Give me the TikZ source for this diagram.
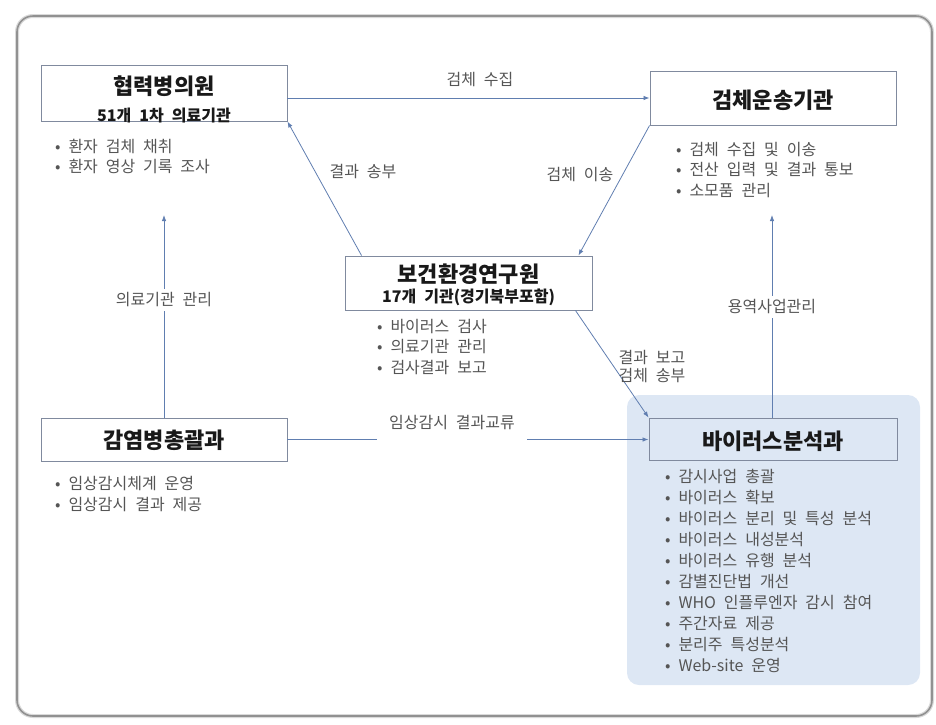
\documentclass[tikz,border=0pt]{standalone}
\usepackage{fontspec}
\setmainfont[WordSpace=2.2]{Noto Sans CJK KR}
\usetikzlibrary{arrows.meta}

\definecolor{linkblue}{RGB}{96,126,176}
\definecolor{boxline}{RGB}{128,138,158}
\definecolor{labgray}{RGB}{85,85,85}
\definecolor{paleblue}{RGB}{221,231,244}
\definecolor{framegray}{RGB}{145,145,145}
\definecolor{halogray}{RGB}{218,218,218}

\tikzset{
  agency/.style={draw=boxline, line width=0.9pt, fill=white, minimum width=246pt},
  agencyname/.style={font=\fontsize{22}{24}\selectfont\bfseries, text=black!90},
  agencysub/.style={font=\fontsize{16}{18}\selectfont\bfseries, text=black!90},
  duty/.style={font=\fontsize{16}{20.5}\selectfont, text=labgray, align=left, anchor=north west, inner sep=0pt},
  conn/.style={draw=linkblue, line width=0.8pt, -{Latex[length=6pt,width=4.5pt]}},
  lbl/.style={font=\fontsize{16}{18}\selectfont, text=labgray},
}

\begin{document}
\begin{tikzpicture}[x=1pt,y=-1pt]
  \useasboundingbox (0,0) rectangle (936,724);
  % frame
  \draw[halogray, line width=4pt, rounded corners=16pt] (17,16) rectangle (932,716);
  \draw[framegray, line width=1.6pt, rounded corners=16pt] (17,16) rectangle (932,716);
  \fill[paleblue, rounded corners=12pt] (627,395) rectangle (920,685);

  % boxes
  \node[agency, minimum height=56pt] (hyup) at (164,93) {};
  \node[agency, minimum height=54pt] (geom) at (773,98) {};
  \node[agency, minimum height=54pt, minimum width=247pt] (bogeon) at (468.5,283) {};
  \node[agency, minimum height=43pt] (gamyeom) at (164,439.5) {};
  \node[agency, minimum height=42pt, minimum width=248pt, fill=paleblue] (virus) at (773,439) {};

  \node[agencyname] (hyupname) at (164,86) {협력병의원};
  \node[agencysub] (hyupsub) at (164,116) {51개 1차 의료기관};
  \node[agencyname] (geomname) at (773,100) {검체운송기관};
  \node[agencyname] (bogeonname) at (468.5,274) {보건환경연구원};
  \node[agencysub] (bogeonsub) at (468.5,297) {17개 기관(경기북부포함)};
  \node[agencyname] (gamyeomname) at (164,440) {감염병총괄과};
  \node[agencyname] (virusname) at (773,441) {바이러스분석과};

  % connectors
  \coordinate (hyupfoot) at (164,215);
  \coordinate (geomfoot) at (772,215);
  \draw[conn] (hyup.east |- geom.west) -- (geom.west);
  \draw[conn] ([xshift=17pt]bogeon.north west) -- (hyup.south east);
  \draw[conn] (geom.south west) -- ([xshift=-14pt]bogeon.north east);
  \draw[conn] (gamyeom.north) -- (hyupfoot);
  \draw[conn] (virus.north -| geomfoot) -- (geomfoot);
  \draw[conn] ([xshift=-17pt]bogeon.south east) -- (virus.north west);
  \draw[conn] (gamyeom.east) -- (gamyeom.east -| virus.west);

  % labels
  \node[lbl] (sujip) at (480,80) {검체 수집};
  \node[lbl] (songbu) at (363,172) {결과 송부};
  \node[lbl] (iseong) at (580,175) {검체 이송};
  \node[lbl, fill=white] (medmgmt) at (164,300) {의료기관 관리};
  \node[lbl, fill=white] (contract) at (772,307) {용역사업관리};
  \node[lbl, align=center] (report) at (652,366) {결과 보고\\검체 송부};
  \node[lbl, fill=white, anchor=base, text depth=14pt, inner xsep=12pt] (exchange) at (452,428) {임상감시 결과교류};

  % duties
  \node[duty] (hyupduty) at (55,139) {• 환자 검체 채취\\• 환자 영상 기록 조사};
  \node[duty] (geomduty) at (676,142) {• 검체 수집 및 이송\\• 전산 입력 및 결과 통보\\• 소모품 관리};
  \node[duty] (bogeonduty) at (377,319) {• 바이러스 검사\\• 의료기관 관리\\• 검사결과 보고};
  \node[duty, font=\fontsize{16}{21}\selectfont] (gamyeomduty) at (55,476) {• 임상감시체계 운영\\• 임상감시 결과 제공};
  \node[duty, font=\fontsize{16}{21}\selectfont] (virusduty) at (665,469) {• 감시사업 총괄\\• 바이러스 확보\\• 바이러스 분리 및 특성 분석\\• 바이러스 내성분석\\• 바이러스 유행 분석\\• 감별진단법 개선\\• WHO 인플루엔자 감시 참여\\• 주간자료 제공\\• 분리주 특성분석\\• Web-site 운영};
\end{tikzpicture}
\end{document}
